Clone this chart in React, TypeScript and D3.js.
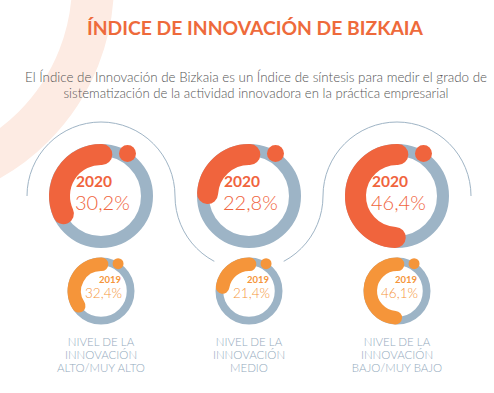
import * as d3 from 'd3';

// niveles de innovacion
const categories = ['ALTO/MUY ALTO', 'MEDIO', 'BAJO/MUY BAJO'];
const values2020 = [30.2, 22.8, 46.4];
const values2019 = [32.4, 21.4, 46.1];
const years = ['2020', '2019'];
const labelHead = ['NIVEL DE LA', 'INNOVACIÓN'];

const title = 'ÍNDICE DE INNOVACIÓN DE BIZKAIA';
const subtitle = [
  'El Índice de Innovación de Bizkaia es un Índice de síntesis para medir el grado de',
  'sistematización de la actividad innovadora en la práctica empresarial',
];

const W = 494;
const H = 393;
const RED = '#f0643d';
const ORANGE = '#f5953a';
const GREY = '#9db4c6';
const FONT = 'Lato, "Open Sans", sans-serif';

const fmt = (v: number) => v.toFixed(1).replace('.', ',') + '%';

const x = d3.scalePoint<string>().domain(categories).range([101, 397]);
// the designer stretched the arcs a little past a true 360 scale
const angle = d3.scaleLinear().domain([0, 100]).range([0, Math.PI * 2 * 1.07]);

type DonutProps = { cx: number; cy: number; R: number; value: number; color: string; big: boolean; year: string };

function Donut({ cx, cy, R, value, color, big, year }: DonutProps) {
  const k = R / 52;
  const ringR = R - 6 * k;
  const ringW = 12 * k;
  const arcR = R - 10.5 * k;
  const arcW = 21 * k;
  const a = angle(value);
  // clockwise-from-top -> canvas angle
  const p = d3.path();
  p.arc(cx, cy, arcR, -Math.PI / 2 + 0.02, -Math.PI / 2 + 0.02 - a, true);
  const dotA = (32 * Math.PI) / 180;
  const dotR = R - 2 * k;
  return (
    <g>
      <circle cx={cx} cy={cy} r={ringR} fill="none" stroke={GREY} strokeWidth={ringW} />
      <path d={p.toString()} fill="none" stroke={color} strokeWidth={arcW} strokeLinecap="round" />
      <circle cx={cx + dotR * Math.sin(dotA)} cy={cy - dotR * Math.cos(dotA)} r={8.5 * k} fill={color} />
      {big ? (
        <g fontFamily={FONT} fill={color}>
          <text x={cx - 25} y={cy - 9.5} fontSize={15.5} fontWeight={700}>{year}</text>
          <text x={cx - 26} y={cy + 13.5} fontSize={20} fontWeight={300}>{fmt(value)}</text>
        </g>
      ) : (
        <g fontFamily={FONT} fill={color} textAnchor="end">
          <text x={cx + 20} y={cy - 8.5} fontSize={9.5} fontWeight={700}>{year}</text>
          <text x={cx + 21} y={cy + 7} fontSize={13.5} fontWeight={300}>{fmt(value)}</text>
        </g>
      )}
    </g>
  );
}

export default function App() {
  const bigY = 196;
  const smallY = 291;
  const bigR = 52;
  const smallR = 33.5;

  // wavy decorative line around the big donuts
  const step = (x(categories[1])! - x(categories[0])!) / 2;
  const wave = d3.path();
  categories.forEach((c, i) => {
    const cx = x(c)!;
    if (i % 2 === 0) wave.arc(cx, bigY, step, Math.PI, Math.PI * 2, false);
    else wave.arc(cx, bigY, step, Math.PI, 0, true);
  });

  return (
    <svg width={W} height={H} style={{ position: 'absolute', left: 0, top: 0, background: '#fff' }}>
      <circle cx={-110} cy={-17} r={203} fill="none" stroke="#fdebe3" strokeWidth={42} />

      <text x={255} y={35} textAnchor="middle" fontFamily={FONT} fontWeight={700} fontSize={19} fill="#ee6a3b" textLength={336} lengthAdjust="spacingAndGlyphs">
        {title}
      </text>
      {subtitle.map((s, i) => (
        <text key={i} x={256} y={82 + i * 16} textAnchor="middle" fontFamily={FONT} fontWeight={300} fontSize={13} fill="#555"
          textLength={i === 0 ? 462 : 385} lengthAdjust="spacingAndGlyphs">
          {s}
        </text>
      ))}

      <path d={wave.toString()} fill="none" stroke="#9fb4c5" strokeWidth={1} />
      {categories.map((c) => (
        <circle key={c} cx={x(c)} cy={smallY} r={smallR + 12} fill="#fff" />
      ))}

      {categories.map((c, i) => (
        <Donut key={'b' + c} cx={x(c)!} cy={bigY} R={bigR} value={values2020[i]} color={RED} big year={years[0]} />
      ))}
      {categories.map((c, i) => (
        <Donut key={'s' + c} cx={x(c)!} cy={smallY} R={smallR} value={values2019[i]} color={ORANGE} big={false} year={years[1]} />
      ))}

      {categories.map((c) => (
        <text key={'l' + c} x={x(c)} textAnchor="middle" fontFamily={FONT} fontSize={11.5} fontWeight={300} fill="#93aabd">
          {[...labelHead, c].map((t, j) => (
            <tspan key={j} x={x(c)} y={346 + j * 13}>{t}</tspan>
          ))}
        </text>
      ))}
    </svg>
  );
}
